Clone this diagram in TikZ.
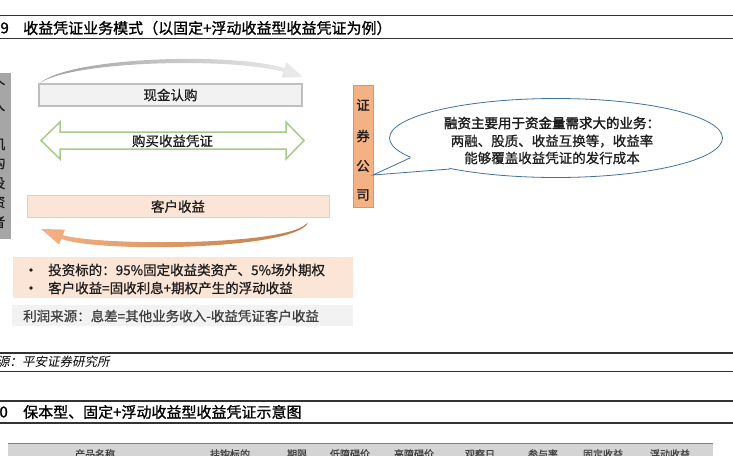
\documentclass[tikz,border=0pt]{standalone}
\usepackage{fontspec}
\setmainfont{Noto Sans CJK SC}
\newfontfamily\cjk[FakeBold=0.8]{Noto Sans CJK SC}
\newfontfamily\cjkbold[FakeBold=2]{Noto Sans CJK SC}
\newfontfamily\cjkhei[FakeBold=1.2]{Noto Sans CJK SC}
\newfontfamily\cjkit[FakeSlant=0.2]{Noto Sans CJK SC}
\definecolor{boxgray}{HTML}{F2F2F2}
\definecolor{boxgrayline}{HTML}{BFBFBF}
\definecolor{arrowgreen}{HTML}{A9C98A}
\definecolor{peach}{HTML}{FBE5D6}
\definecolor{peachline}{HTML}{E8CDBB}
\definecolor{orangebox}{HTML}{F4B183}
\definecolor{orangeline}{HTML}{DD9466}
\definecolor{orangedark}{HTML}{C27C48}
\definecolor{leftgray}{HTML}{A6A6A6}
\definecolor{calloutline}{HTML}{41719C}
\definecolor{txt}{HTML}{1E1E1E}
\definecolor{txtgray}{HTML}{404040}
\definecolor{rule}{HTML}{333333}
\definecolor{hdrgray}{HTML}{D4D4D4}
\tikzset{
  lbl/.style={inner sep=0pt, text=txt, font=\cjk\fontsize{13.5}{14}\selectfont},
  titletxt/.style={inner sep=0pt, anchor=west, text=black, font=\cjkhei\fontsize{15}{15}\selectfont},
  rulestyle/.style={draw=rule, line width=1.6pt},
  hdr/.style={inner sep=0pt, text=txtgray, font=\cjk\fontsize{10}{10}\selectfont},
  vchar/.style={inner sep=0pt, text=txt, font=\cjk\fontsize{13.5}{14}\selectfont},
  bulletdot/.style={circle, fill=txt, inner sep=0pt, minimum size=3.6pt},
}
\begin{document}
\begin{tikzpicture}[x=1pt,y=-1pt]
\useasboundingbox (0,0) rectangle (733,455);
\clip (0,0) rectangle (733,455);
\fill[white] (0,0) rectangle (733,455);

% ---- title 1 ----
\draw[rulestyle] (0,15.5) -- (733,15.5);
\draw[rulestyle] (0,38.5) -- (733,38.5);
\node[titletxt, anchor=east] (t1num) at (9,28) {9};
\node[titletxt] (t1) at (23,28) {收益凭证业务模式（以固定+浮动收益型收益凭证为例）};

% ---- left gray box (clipped) ----
\node[draw=none, fill=leftgray, minimum width=30pt, minimum height=166pt, inner sep=0pt] (lbox) at (-4,156) {};
\foreach \c/\yy [count=\i] in {个/85,人/105,、/124,机/144,构/163,投/183,资/202,者/222}{
  \node[vchar] (lc\i) at (-1.5,\yy) {\c};
}

% ---- top arc (gray) ----
\shade[left color=gray!75, right color=gray!15]
  (40,83) .. controls (70,57) and (230,52) .. (284.6,68.1) -- (286.4,62.4) -- (303,77)
  -- (281.6,77.6) -- (283.4,71.9) .. controls (230,57) and (72,61) .. (40,83) -- cycle;

% ---- 现金认购 ----
\node[draw=boxgrayline, fill=boxgray, line width=1.2pt, minimum width=263pt, minimum height=22pt, inner sep=0pt] (cash) at (170.5,95) {};
\node[lbl] (cashtxt) at (cash.center) {现金认购};

% ---- double arrow ----
\draw[arrowgreen, line width=1.5pt, fill=white, line join=miter]
  (41,140.5) -- (60,122) -- (60,132) -- (286,132) -- (286,122) -- (304,140.5)
  -- (286,159) -- (286,149) -- (60,149) -- (60,159) -- cycle;
\node[lbl] (buy) at (172.5,141) {购买收益凭证};

% ---- 客户收益 ----
\node[draw=peachline, fill=peach, line width=0.8pt, minimum width=302pt, minimum height=22pt, inner sep=0pt] (cust) at (178,206.5) {};
\node[lbl] (custtxt) at (cust.center) {客户收益};

% ---- bottom arc (orange) ----
\shade[left color=orangebox, right color=orangedark]
  (308,223) .. controls (293,250) and (100,253) .. (61.3,238.9) -- (59,244.4) -- (41,229)
  -- (65,229.6) -- (62.7,235.1) .. controls (100,246) and (284,246) .. (306,224) -- cycle;

% ---- bullet box ----
\node[fill=peach, draw=none, minimum width=340pt, minimum height=41pt, inner sep=0pt] (bul) at (183,277.5) {};
\node[bulletdot] (b1) at (31,270) {};
\node[bulletdot] (b2) at (31,288) {};
\node[lbl, anchor=west] (bt1) at (48,270) {投资标的：95\%固定收益类资产、5\%场外期权};
\node[lbl, anchor=west] (bt2) at (48,288) {客户收益=固收利息+期权产生的浮动收益};

% ---- profit box ----
\node[fill=boxgray, draw=none, minimum width=341pt, minimum height=21pt, inner sep=0pt] (prof) at (182.5,315.5) {};
\node[lbl, anchor=west, text=txtgray] (proftxt) at (23,316) {利润来源：息差=其他业务收入-收益凭证客户收益};

% ---- 证券公司 ----
\node[draw=orangeline, fill=orangebox, line width=0.8pt, minimum width=20pt, minimum height=122pt, inner sep=0pt] (sec) at (363,146) {};
\foreach \c/\yy [count=\i] in {证/105,券/136,公/166,司/195}{
  \node[vchar] (sc\i) at (363,\yy) {\c};
}

% ---- callout ----
\draw[calloutline, line width=0.8pt, fill=white] (556,138) ellipse [x radius=166.5, y radius=39.5];
\fill[white] (410,158) -- (373,175) -- (450,169) -- (440,160) -- (415,155) -- cycle;
\coordinate (tip) at (373,175);
\draw[calloutline, line width=0.8pt, line join=miter] (410,158) -- (tip) -- (450,169);
\node[lbl, font=\cjkbold\fontsize{13.5}{14}\selectfont] (c1) at (552,123) {融资主要用于资金量需求大的业务：};
\node[lbl] (c2) at (552,141) {两融、股质、收益互换等，收益率};
\node[lbl] (c3) at (552,158) {能够覆盖收益凭证的发行成本};

% ---- source ----
\draw[rulestyle] (0,353) -- (733,353);
\draw[rulestyle] (0,371.5) -- (733,371.5);
\node[inner sep=0pt, anchor=west, text=black, font=\cjkit\fontsize{12.5}{13}\selectfont] (src) at (-3,362) {源：平安证券研究所};

% ---- title 2 ----
\draw[rulestyle] (0,401) -- (733,401);
\draw[rulestyle] (0,423) -- (733,423);
\node[titletxt, anchor=east] (t2num) at (8,412) {0};
\node[titletxt] (t2) at (23,412) {保本型、固定+浮动收益型收益凭证示意图};

% ---- table header ----
\fill[hdrgray] (8,443) rectangle (713,460);
\draw[gray, line width=1pt] (8,443) -- (713,443);
\foreach \t/\xx [count=\i] in {产品名称/95,挂钩标的/230,期限/297,低障碍价/350,高障碍价/414,观察日/480,参与率/543,固定收益/603,浮动收益/670}{
  \node[hdr] (h\i) at (\xx,454) {\t};
}
\end{tikzpicture}
\end{document}
